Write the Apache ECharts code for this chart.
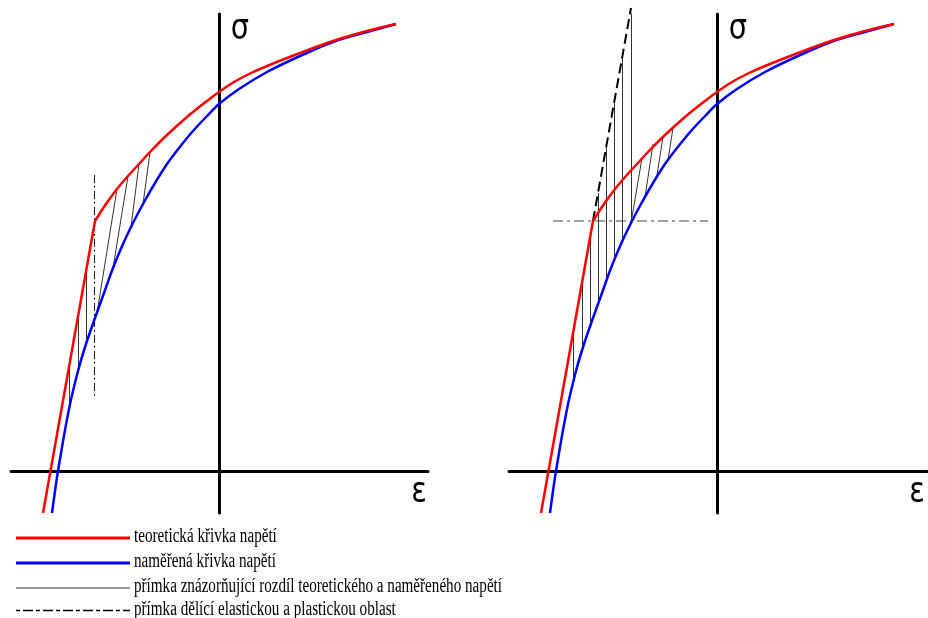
<!DOCTYPE html>
<html>
<head>
<meta charset="utf-8">
<script src="https://cdn.jsdelivr.net/npm/echarts@6/dist/echarts.min.js"></script>
<style>
  html, body { margin: 0; padding: 0; background: #fff; }
  #chart { width: 928px; height: 618px; }
</style>
</head>
<body>
<div id="chart"></div>
<script>
// stress-strain curves, same shape in both panels (x = strain, y = stress)
const redElastic = [[-1.76, -0.42], [-1.24, 2.50]];
const redPlastic = [
  [-1.24, 2.50], [-1.13, 2.67], [-1.02, 2.82], [-0.91, 2.95], [-0.80, 3.07],
  [-0.69, 3.19], [-0.52, 3.36], [-0.32, 3.54], [-0.12, 3.70], [0, 3.79],
  [0.15, 3.89], [0.30, 3.97], [0.48, 4.05], [0.81, 4.18], [1.14, 4.30], [1.48, 4.40], [1.77, 4.47]
];
const blueCurve = [
  [-1.67, -0.42], [-1.61, 0], [-1.50, 0.62], [-1.41, 1.00], [-1.33, 1.27],
  [-1.24, 1.53], [-1.15, 1.78], [-1.06, 2.03], [-0.96, 2.27], [-0.86, 2.48],
  [-0.76, 2.67], [-0.64, 2.88], [-0.52, 3.07], [-0.40, 3.23], [-0.26, 3.40],
  [-0.12, 3.55], [0, 3.67], [0.20, 3.82], [0.48, 3.99], [0.81, 4.15],
  [1.14, 4.29], [1.48, 4.39], [1.77, 4.47]
];

// hatching segments [x1, y1, x2, y2]
const leftHatch = [
  [-1.50, 1.04, -1.50, 0.62],
  [-1.41, 1.55, -1.41, 1.00],
  [-1.33, 1.99, -1.33, 1.27],
  [-1.22, 1.58, -1.02, 2.82],
  [-1.06, 2.03, -0.91, 2.95],
  [-0.88, 2.44, -0.80, 3.07],
  [-0.76, 2.67, -0.69, 3.19]
];
const rightHatch = [
  [-1.44, 1.38, -1.44, 0.87],
  [-1.35, 1.88, -1.35, 1.22],
  [-1.27, 2.33, -1.27, 1.45],
  [-1.19, 2.78, -1.19, 1.67],
  [-1.11, 3.24, -1.11, 1.89],
  [-1.03, 3.69, -1.03, 2.10],
  [-0.95, 4.15, -0.95, 2.29],
  [-0.86, 4.60, -0.86, 2.48],
  [-0.86, 2.48, -0.75, 3.13],
  [-0.72, 2.74, -0.64, 3.27],
  [-0.60, 2.96, -0.54, 3.34],
  [-0.49, 3.11, -0.44, 3.43]
];

// lines dividing elastic / plastic region
const leftDivider = [[-1.245, 2.96], [-1.245, 0.73]];
const rightExtension = [[-1.24, 2.50], [-0.86, 4.63]];
const rightLevel = [[-1.64, 2.50], [-0.09, 2.50]];

const legendLabels = [
  "teoretická křivka napětí",
  "naměřená křivka napětí",
  "přímka znázorňující rozdíl teoretického a naměřeného napětí",
  "přímka dělící elastickou a plastickou oblast"
];

const myChart = echarts.init(document.getElementById("chart"));

function panelAxes(i) {
  return {
    x: {
      type: "value", gridIndex: i, min: -2.08, max: i === 0 ? 2.09 : 2.10,
      axisLine: { onZero: true, lineStyle: { color: "#000", width: 3 } },
      axisTick: { show: false }, axisLabel: { show: false }, splitLine: { show: false }
    },
    y: {
      type: "value", gridIndex: i, min: -0.42, max: 4.57,
      axisLine: { onZero: true, lineStyle: { color: "#000", width: 3 } },
      axisTick: { show: false }, axisLabel: { show: false }, splitLine: { show: false }
    }
  };
}

function curveSeries(i) {
  const base = { type: "line", xAxisIndex: i, yAxisIndex: i, showSymbol: false, symbol: "none", z: 3, silent: true };
  return [
    Object.assign({}, base, { data: blueCurve, smooth: 0.3, lineStyle: { color: "#0000ff", width: 2.5 } }),
    Object.assign({}, base, { data: redElastic, lineStyle: { color: "#ff0000", width: 2.5 } }),
    Object.assign({}, base, { data: redPlastic, smooth: 0.3, lineStyle: { color: "#ff0000", width: 2.5 } })
  ];
}

function hatchSeries(i, segs) {
  return {
    type: "lines", coordinateSystem: "cartesian2d", xAxisIndex: i, yAxisIndex: i, z: 1, silent: true,
    lineStyle: { color: "#333", width: 1, opacity: 1 },
    data: segs.map(s => ({ coords: [[s[0], s[1]], [s[2], s[3]]] }))
  };
}

const ax0 = panelAxes(0), ax1 = panelAxes(1);

// squeeze legend text to the reference width
const fontSize = 20;
const ctx = document.createElement("canvas").getContext("2d");
ctx.font = fontSize + 'px "Liberation Serif"';
const textScale = 368 / ctx.measureText(legendLabels[2]).width;

const legendRows = [
  { y: 538, stroke: "#ff0000", width: 3, dash: null },
  { y: 563, stroke: "#0000ff", width: 3, dash: null },
  { y: 588, stroke: "#777", width: 1.5, dash: null },
  { y: 610.5, stroke: "#000", width: 1.5, dash: [4, 3, 10, 3] }
];

const graphic = [];
legendRows.forEach((r, k) => {
  graphic.push({
    type: "line", shape: { x1: 16, y1: r.y, x2: 130, y2: r.y },
    style: { stroke: r.stroke, lineWidth: r.width, lineDash: r.dash }
  });
  graphic.push({
    type: "text", x: 134, y: Math.round(r.y) - 1, scaleX: textScale,
    style: { text: legendLabels[k], fontSize: fontSize, fontFamily: "Liberation Serif", fill: "#000", align: "left", verticalAlign: "middle" }
  });
});
[[240, 30, "σ"], [419, 493, "ε"], [738, 30, "σ"], [917, 493, "ε"]].forEach(t => {
  graphic.push({
    type: "text", x: t[0], y: t[1], scaleX: 0.8,
    style: { text: t[2], fontSize: 36, fontFamily: "DejaVu Sans", fill: "#000", align: "center", verticalAlign: "middle" }
  });
});

let option = {
  animation: false,
  backgroundColor: "#fff",
  grid: [
    { left: 11, right: 500, top: 14, bottom: 105 },
    { left: 509, right: 1, top: 14, bottom: 105 }
  ],
  xAxis: [ax0.x, ax1.x],
  yAxis: [ax0.y, ax1.y],
  series: [
    ...curveSeries(0),
    hatchSeries(0, leftHatch),
    {
      type: "line", xAxisIndex: 0, yAxisIndex: 0, data: leftDivider, symbol: "none", z: 2, silent: true,
      lineStyle: { color: "#222", width: 1, type: [8, 3, 2, 3] }
    },
    ...curveSeries(1),
    hatchSeries(1, rightHatch),
    {
      type: "line", xAxisIndex: 1, yAxisIndex: 1, data: rightExtension, symbol: "none", z: 2, clip: false, silent: true,
      lineStyle: { color: "#000", width: 2, type: [10, 5] }
    },
    {
      type: "line", xAxisIndex: 1, yAxisIndex: 1, data: rightLevel, symbol: "none", z: 2, silent: true,
      lineStyle: { color: "#444", width: 1.2, type: [10, 4, 3, 4] }
    }
  ],
  graphic: graphic
};

option && myChart.setOption(option);
</script>
</body>
</html>
